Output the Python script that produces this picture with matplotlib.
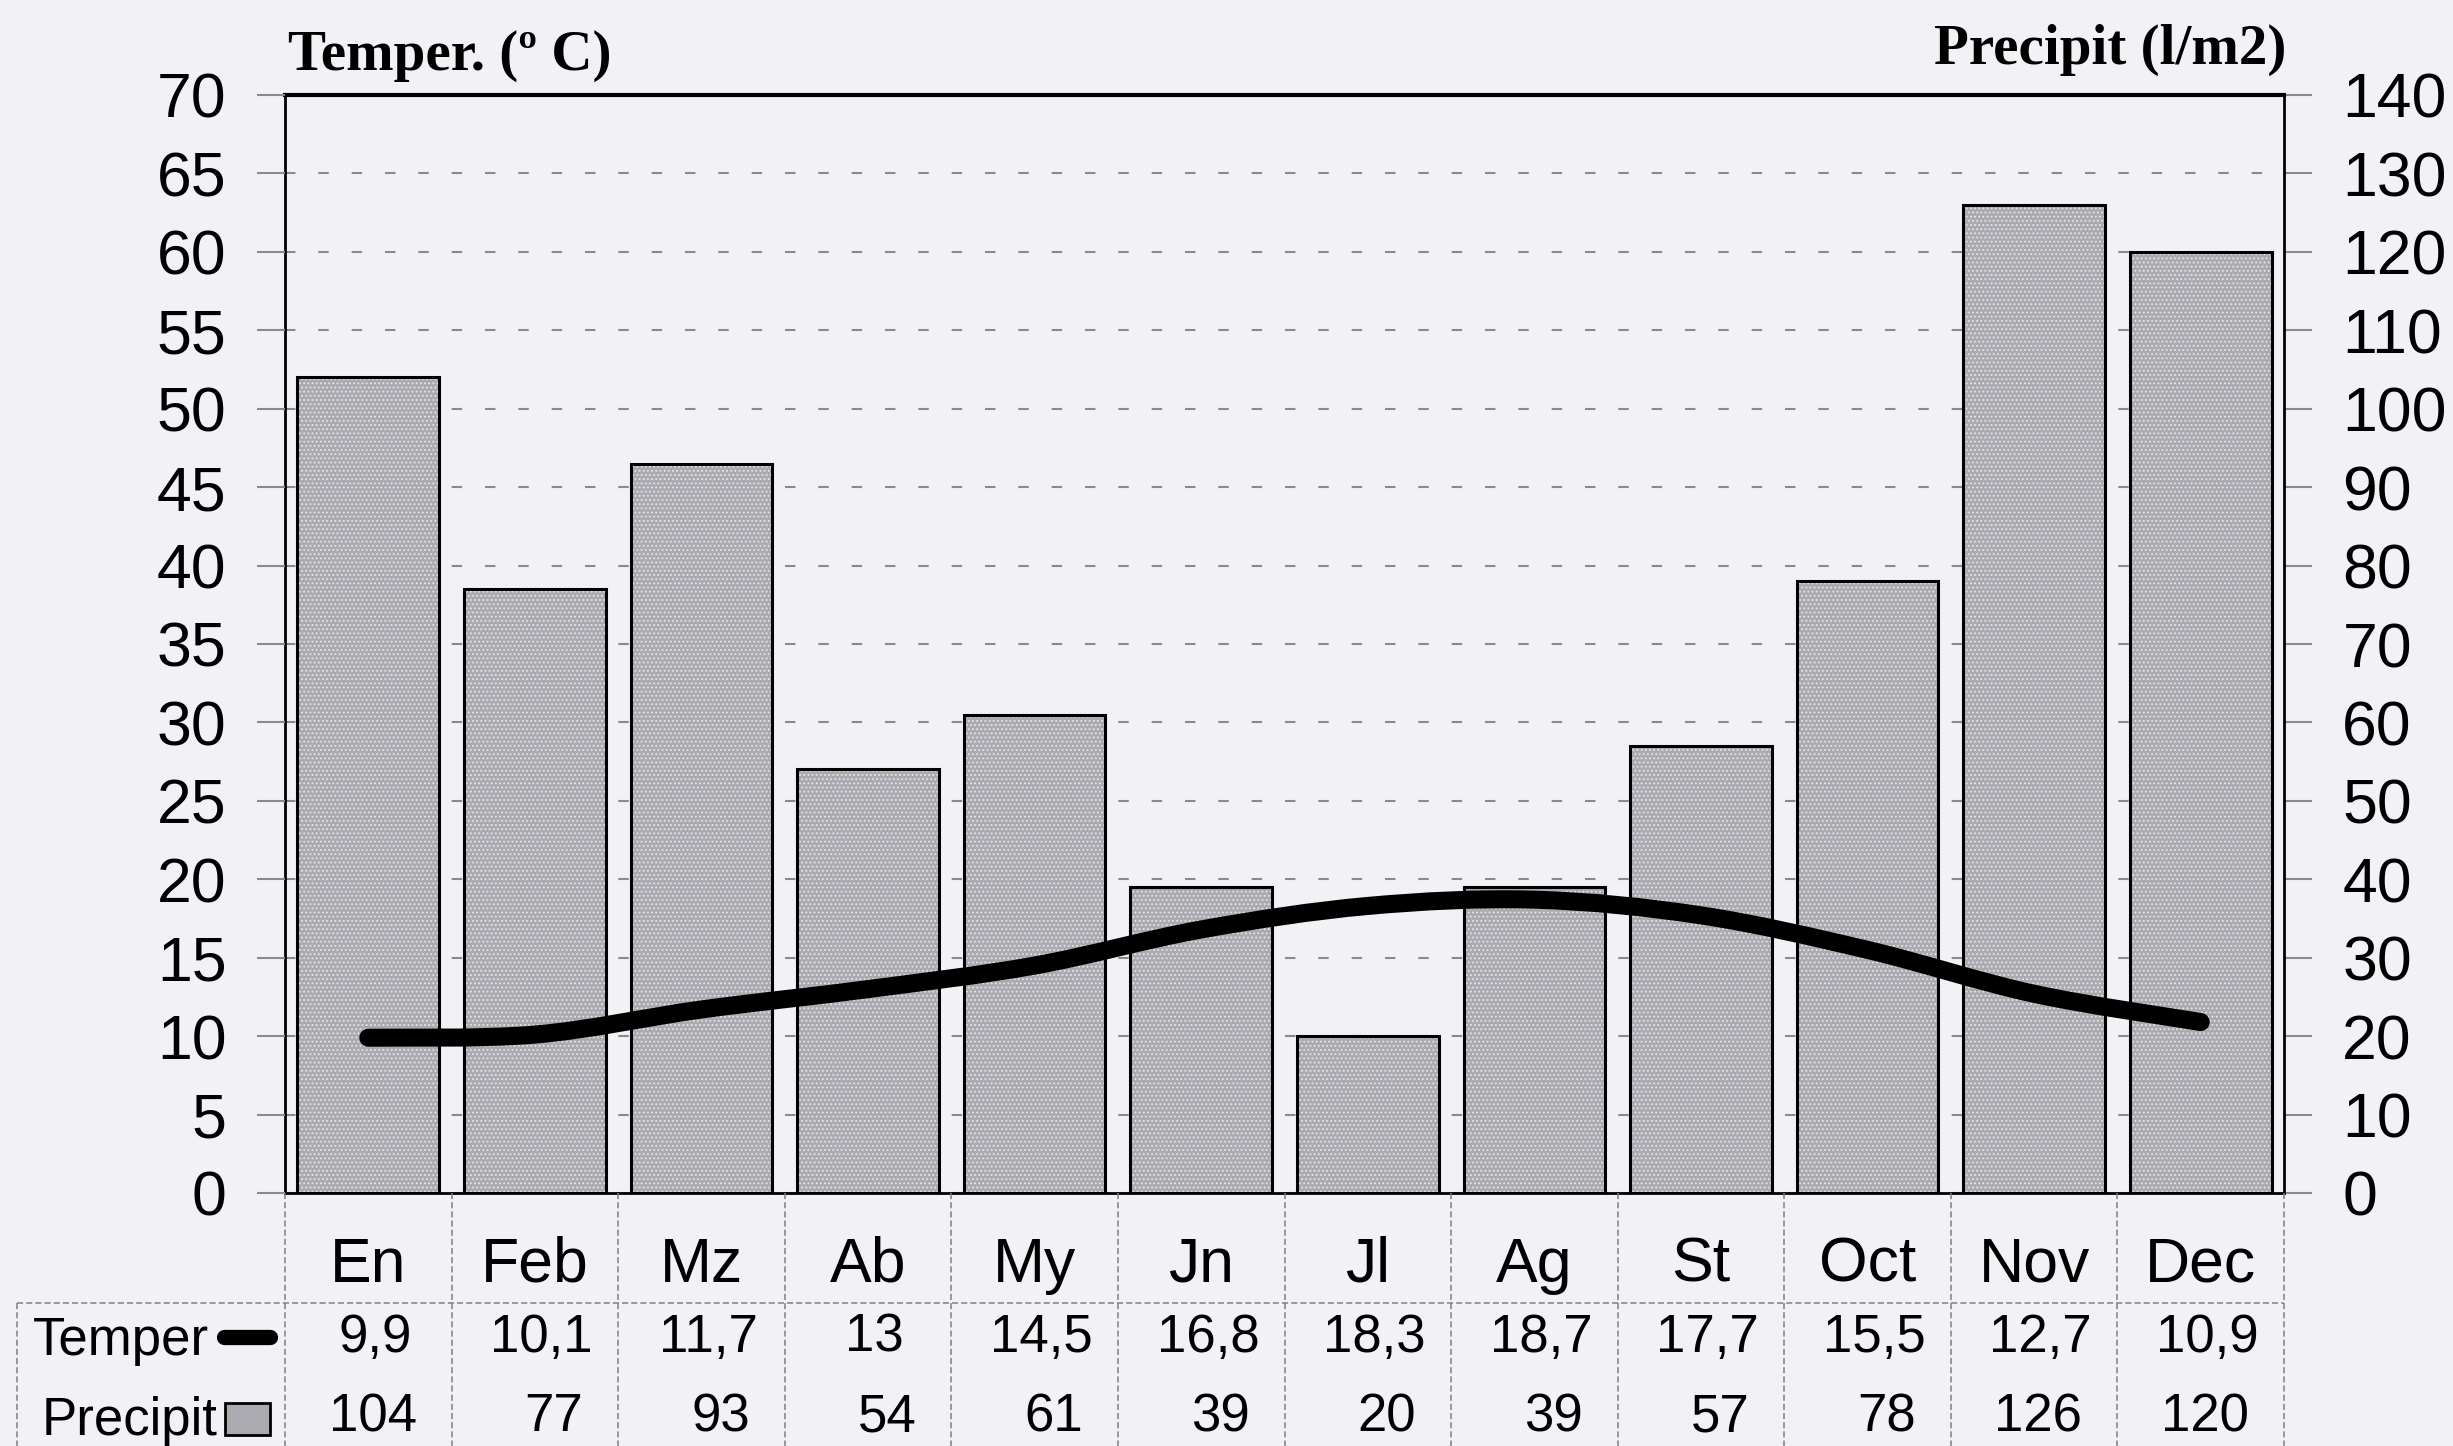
import numpy as np
import matplotlib.pyplot as plt
from matplotlib.transforms import blended_transform_factory
from matplotlib.lines import Line2D
from matplotlib.patches import Rectangle, PathPatch
from matplotlib.path import Path

# datos del climograma
meses = ['En', 'Feb', 'Mz', 'Ab', 'My', 'Jn', 'Jl', 'Ag', 'St', 'Oct', 'Nov', 'Dec']
temper = [9.9, 10.1, 11.7, 13, 14.5, 16.8, 18.3, 18.7, 17.7, 15.5, 12.7, 10.9]
precipit = [104, 77, 93, 54, 61, 39, 20, 39, 57, 78, 126, 120]

W, H = 2453, 1446
fondo = '#f1f1f6'
gris_barra = '#aaaab0'
gris_linea = '#8a8a8a'


def fx(px):
    return px / W


def fy(py):
    return 1 - py / H


def linea_suave(xs, ys):
    # curva suavizada (como la linea "suavizada" de Excel) con beziers
    p = np.column_stack([xs, ys]).astype(float)
    ext = np.vstack([p[0], p, p[-1]])
    verts = [p[0]]
    codes = [Path.MOVETO]
    for i in range(len(p) - 1):
        c1 = ext[i + 1] + (ext[i + 2] - ext[i]) / 6
        c2 = ext[i + 2] - (ext[i + 3] - ext[i + 1]) / 6
        verts += [c1, c2, ext[i + 2]]
        codes += [Path.CURVE4] * 3
    return Path(verts, codes)


plt.rcParams['font.family'] = ['Liberation Sans', 'DejaVu Sans']
plt.rcParams['hatch.linewidth'] = 0.8

fig = plt.figure(figsize=(W / 100, H / 100), dpi=100, facecolor=fondo)

x = np.arange(len(meses))

# eje de precipitacion (derecha) con las barras
ax = fig.add_axes([fx(285), fy(1193), fx(2284) - fx(285), fy(95) - fy(1193)])
ax.set_facecolor(fondo)
ax.set_xlim(-0.5, 11.5)
ax.set_ylim(0, 140)
ax.bar(x, precipit, width=0.85, color=gris_barra, edgecolor='#e6e6ea',
       hatch='....', linewidth=0, zorder=2)
ax.bar(x, precipit, width=0.85, fill=False, edgecolor='black',
       linewidth=2.2, zorder=3)
ax.set_yticks(range(0, 141, 10))
ax.grid(axis='y', color=gris_linea, linewidth=1.5, dashes=(5, 11))
ax.set_axisbelow(True)
ax.set_xticks([])

# eje de temperatura (izquierda) con la linea
ax2 = ax.twinx()
ax2.set_ylim(0, 70)
ax2.set_yticks(range(0, 71, 5))
curva = PathPatch(linea_suave(x, temper), fill=False, edgecolor='black',
                  linewidth=13, capstyle='round', joinstyle='round', zorder=4)
ax2.add_patch(curva)
ax2.set_xticks([])

ax.yaxis.tick_right()
ax2.yaxis.tick_left()
for a in (ax, ax2):
    a.tick_params(axis='y', length=20, width=1.5, color=gris_linea,
                  pad=22, labelsize=45, labelcolor='black')
for s in ax2.spines.values():
    s.set_visible(False)
for s in ax.spines.values():
    s.set_color('black')
    s.set_linewidth(2)
ax.spines['top'].set_linewidth(3)

# titulos de los ejes
fig.text(fx(288), fy(70), 'Temper. (º C)', family='Liberation Serif',
         fontweight='bold', fontsize=41, ha='left', va='baseline')
fig.text(fx(2286), fy(64), 'Precipit (l/m2)', family='Liberation Serif',
         fontweight='bold', fontsize=41, ha='right', va='baseline')

# tabla de datos
trans = blended_transform_factory(ax.transData, fig.transFigure)
for i in x:
    ax.text(i, fy(1282), meses[i], transform=trans, ha='center',
            va='baseline', fontsize=45, clip_on=False)
    ax.text(i + 0.04, fy(1352), f'{temper[i]:g}'.replace('.', ','),
            transform=trans, ha='center', va='baseline', fontsize=38,
            clip_on=False)
    ax.text(i + 0.29, fy(1431), str(precipit[i]), transform=trans,
            ha='right', va='baseline', fontsize=38, clip_on=False)

for b in np.arange(-0.5, 12):
    fig.add_artist(Line2D([b, b], [fy(1193), 0], transform=trans,
                          color='#808080', linewidth=1.1, dashes=(4, 2)))
fig.add_artist(Line2D([fx(17), fx(2284)], [fy(1303), fy(1303)],
                      color='#808080', linewidth=1.1, dashes=(4, 2)))
fig.add_artist(Line2D([fx(17), fx(17)], [fy(1303), 0],
                      color='#808080', linewidth=1.1, dashes=(4, 2)))

# leyenda en la tabla
fig.text(fx(33), fy(1355), 'Temper', fontsize=38, ha='left', va='baseline')
fig.add_artist(Line2D([fx(224), fx(270)], [fy(1337), fy(1337)],
                      color='black', linewidth=11, solid_capstyle='round'))
fig.text(fx(42), fy(1435), 'Precipit', fontsize=38, ha='left', va='baseline')
fig.add_artist(Rectangle((fx(225), fy(1435)), fx(270) - fx(225),
                         fy(1403) - fy(1435), transform=fig.transFigure,
                         facecolor=gris_barra, edgecolor='black',
                         linewidth=2))

fig.savefig('out.png', dpi=100, facecolor=fondo)
